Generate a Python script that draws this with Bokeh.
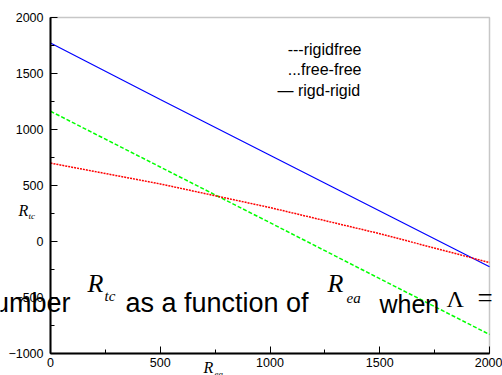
from bokeh.plotting import figure
from bokeh.models import Range1d, SingleIntervalTicker, Label, BoxAnnotation
from bokeh.embed import file_html
from bokeh.resources import INLINE

# Data
x_vals = [0, 500, 1000, 1500, 2000]
rigid_rigid = [1772, 1268, 770, 273, -226]     # blue solid
rigid_free = [1163, 665, 168, -332, -830]      # green dashed
free_free = [700, 514, 303, 70, -188]          # red dotted

X_MIN, X_MAX = 0, 2000
Y_MIN, Y_MAX = -1000, 2000

W, H = 502, 375
# plotting area in canvas pixels
FL, FR, FT, FB = 50, 489, 17, 353

def xv(px):
    return X_MIN + (px - FL) / (FR - FL) * (X_MAX - X_MIN)

def yv(py):
    return Y_MAX - (py - FT) / (FB - FT) * (Y_MAX - Y_MIN)

p = figure(width=W, height=H, output_backend="svg", toolbar_location=None,
           x_range=Range1d(xv(0), xv(W)), y_range=Range1d(yv(H), yv(0)),
           min_border_left=0, min_border_right=0, min_border_top=0, min_border_bottom=0)
p.background_fill_color = "white"
p.border_fill_color = "white"
p.grid.visible = False
p.outline_line_color = None

p.add_layout(BoxAnnotation(left=X_MIN, right=X_MAX, bottom=Y_MIN, top=Y_MAX,
                           fill_alpha=0, line_color="#444444", line_width=1.5,
                           level="underlay"))

p.xaxis.fixed_location = Y_MIN
p.yaxis.fixed_location = X_MIN
p.xaxis.bounds = (X_MIN, X_MAX)
p.yaxis.bounds = (Y_MIN, Y_MAX)

for ax in (p.xaxis[0], p.yaxis[0]):
    ax.ticker = SingleIntervalTicker(interval=500, num_minor_ticks=2)
    ax.axis_line_color = "black"
    ax.axis_line_width = 2
    ax.major_tick_in = 7
    ax.major_tick_out = 0
    ax.minor_tick_in = 4
    ax.minor_tick_out = 0
    ax.major_tick_line_color = "black"
    ax.minor_tick_line_color = "black"
    ax.major_label_text_font = "Liberation Sans"
    ax.major_label_text_font_size = "12.5px"
    ax.major_label_text_color = "black"
p.yaxis.major_label_standoff = 7
p.xaxis.major_label_standoff = 4

p.line(x_vals, rigid_rigid, line_color="#0000ff", line_width=1.2)
p.line(x_vals, rigid_free, line_color="#00ff00", line_width=1.5, line_dash="4 2")
p.line(x_vals, free_free, line_color="#ff0000", line_width=1.5, line_dash="2 1")

def lab(text, px, py, size=16, font="Liberation Sans", style="normal", align="left"):
    # py is the text baseline in canvas pixels; anchor on the em-box middle
    mid = py - 0.345 * size
    p.add_layout(Label(x=xv(px), y=yv(mid), text=text, text_font=font,
                       text_font_size=f"{size}px", text_font_style=style,
                       text_align=align, text_baseline="middle",
                       text_color="black"))

# legend-like texts
lab("---rigidfree", 361, 55, align="right")
lab("...free-free", 361, 75, align="right")
lab("\u2014 rigd-rigid", 277, 96)

# axis titles
lab("R", 18, 216, 16, font="Liberation Serif", style="italic")
lab("tc", 28, 219, 9, font="Liberation Serif", style="italic")
lab("R", 203, 373, 16, font="Liberation Serif", style="italic")
lab("ea", 214, 377, 9, font="Liberation Serif", style="italic")

# overlaid caption
lab("number", 70, 312, 27, align="right")
lab("R", 87, 292, 26, font="Liberation Serif", style="italic")
lab("tc", 104, 301, 15, font="Liberation Serif", style="italic")
lab("as a function of", 125, 312, 27)
lab("R", 327, 292, 26, font="Liberation Serif", style="italic")
lab("ea", 346, 303, 15, font="Liberation Serif", style="italic")
lab("when", 379, 312, 25)
lab("\u039b", 446, 307, 24, font="Liberation Serif")
lab("=", 477, 307, 27, font="Liberation Serif")

open("out.html", "w").write(file_html(p, INLINE))
